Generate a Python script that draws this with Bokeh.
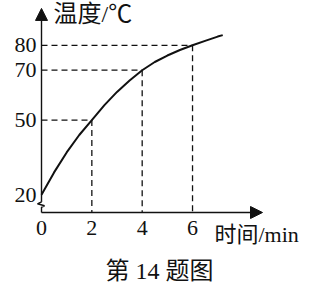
from bokeh.plotting import figure
from bokeh.models import Range1d, Arrow, NormalHead
from bokeh.core.properties import value
from bokeh.embed import file_html
from bokeh.resources import INLINE

# ---- data ----
time_min = [0, 0.5, 1, 1.5, 2, 2.5, 3, 3.5, 4, 4.5, 5, 5.5, 6, 6.5, 7.0, 7.2]
temp_c = [20, 29, 37, 44, 50, 56, 61.3, 65.9, 70, 73.3, 75.9, 78.1, 80, 81.8, 83.5, 84.1]
marked_time = [2, 4, 6]
marked_temp = [50, 70, 80]
x_ticks = [0, 2, 4, 6]
x_tick_labels = ["0", "2", "4", "6"]
y_ticks = [20, 50, 70, 80]
y_tick_labels = ["20", "50", "70", "80"]
x_title = "时间/min"
y_title = "温度/℃"
caption = "第 14 题图"

# ---- layout (data-space positions of decorations) ----
AXIS_Y = 12.9      # where the time axis sits
Y_TIP = 94.8       # tip of the temperature-axis arrow
X_TIP = 8.78       # tip of the time-axis arrow
INK = "#111111"
SERIF_CJK = value("Liberation Serif, Noto Sans CJK SC")

p = figure(width=321, height=290,
           x_range=Range1d(-1.629, 11.124), y_range=Range1d(-18.40, 97.98),
           output_backend="svg", toolbar_location=None,
           x_axis_type=None, y_axis_type=None, min_border=0)
p.outline_line_color = None
p.background_fill_color = "white"
p.border_fill_color = "white"

# dashed guide lines
n = len(marked_time)
p.segment(x0=[0] * n, y0=marked_temp, x1=marked_time, y1=marked_temp,
          line_color=INK, line_width=1.3, line_dash="6 4")
p.segment(x0=marked_time, y0=marked_temp, x1=marked_time, y1=[AXIS_Y] * n,
          line_color=INK, line_width=1.3, line_dash="6 4")

# curve
p.line(time_min, temp_c, line_color=INK, line_width=2, line_join="round")

# temperature axis with break
p.line([0, 0, 0.12, -0.16, 0, 0], [AXIS_Y, 15.0, 15.6, 16.4, 17.2, 17.3],
       line_color=INK, line_width=1.4)
p.add_layout(Arrow(end=NormalHead(size=12, fill_color=INK, line_color=INK),
                   x_start=0, y_start=17.2, x_end=0, y_end=Y_TIP,
                   line_color=INK, line_width=1.4))
# time axis
p.add_layout(Arrow(end=NormalHead(size=12, fill_color=INK, line_color=INK),
                   x_start=0, y_start=AXIS_Y, x_end=X_TIP, y_end=AXIS_Y,
                   line_color=INK, line_width=1.4))

# tick labels
p.text(x=x_ticks, y=[AXIS_Y] * len(x_ticks), text=x_tick_labels,
       text_align="center", text_baseline="top", y_offset=8,
       text_font=value("Liberation Serif"), text_font_size="22px", text_color=INK)
p.text(x=[0] * len(y_ticks), y=y_ticks, text=y_tick_labels,
       text_align="right", text_baseline="middle", x_offset=-5,
       text_font=value("Liberation Serif"), text_font_size="22px", text_color=INK)

# axis titles and caption
p.text(x=[0], y=[Y_TIP], text=[y_title], text_align="left", text_baseline="middle",
       x_offset=12, y_offset=6, text_font=SERIF_CJK, text_font_size="24px",
       text_color=INK)
p.text(x=[X_TIP], y=[AXIS_Y], text=[x_title], text_align="left",
       text_baseline="middle", x_offset=-48, y_offset=22, text_font=SERIF_CJK,
       text_font_size="22px", text_color=INK)
p.text(x=[4.69], y=[-10.4], text=[caption], text_align="center",
       text_baseline="middle", text_font=SERIF_CJK, text_font_size="24px",
       text_color=INK)

open("out.html", "w").write(file_html(p, INLINE))
